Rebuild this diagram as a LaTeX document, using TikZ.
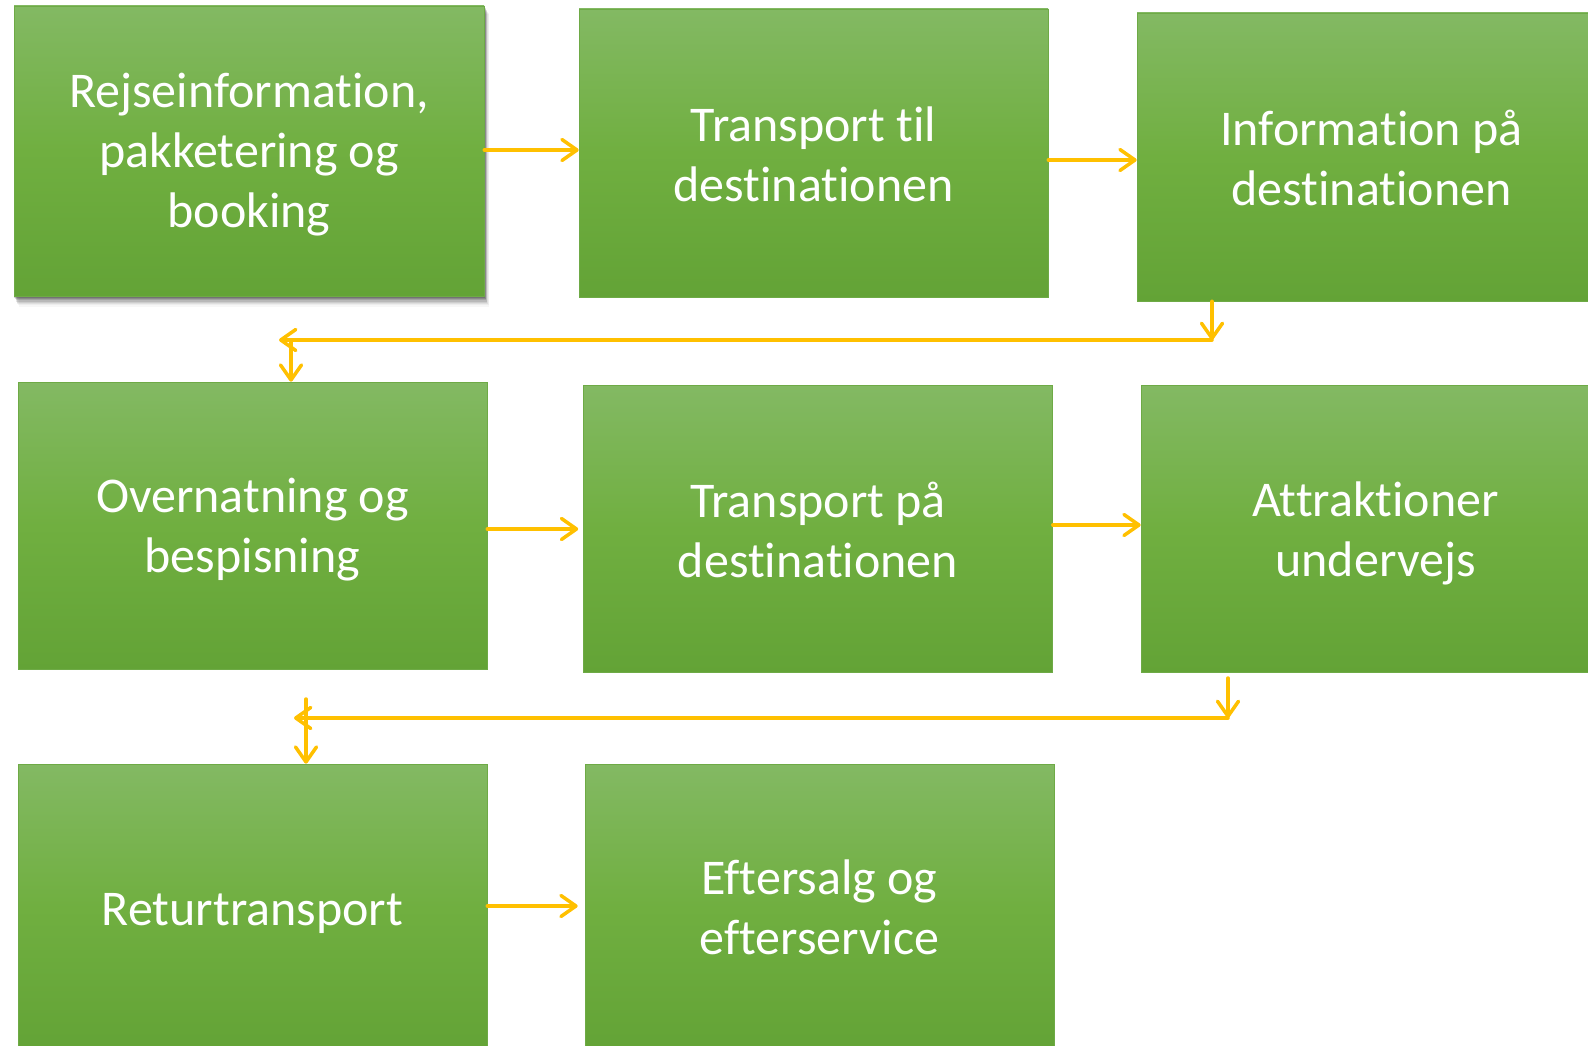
\documentclass[tikz,border=0pt]{standalone}
\usepackage{fontspec}
\setmainfont[Ligatures=NoCommon]{Carlito}
\usetikzlibrary{arrows.meta,backgrounds,calc}
\definecolor{gtop}{RGB}{131,185,99}
\definecolor{gmid}{RGB}{112,175,64}
\definecolor{gbot}{RGB}{99,163,54}
\definecolor{gedge}{RGB}{110,170,70}
\definecolor{gold}{RGB}{255,192,0}
\tikzset{
  box/.style={rectangle, inner sep=0pt, minimum width=469pt, minimum height=287pt,
    top color=gtop, bottom color=gbot, middle color=gmid, draw=gedge, line width=0.6pt},
  boxtext/.style={text=white, align=center, inner sep=0pt, yshift=-4pt,
    font=\fontsize{50pt}{60pt}\selectfont},
  conn/.style={draw=gold, line width=3.5pt, line cap=round, line join=round},
  arr/.style={conn, -{Straight Barb[length=15pt,width=21pt,line cap=round,line join=round]}},
}
\begin{document}
\begin{tikzpicture}[x=1pt,y=-1pt]
\useasboundingbox (0,0) rectangle (1588,1046);
\node[box, minimum width=470pt, minimum height=290pt, label={[boxtext]center:Rejseinformation,\\pakketering og\\booking}] (b1) at (249,151) {};
\node[box, minimum height=288pt, label={[boxtext, yshift=3pt]center:Transport til\\destinationen}] (b2) at (813.5,153) {};
\node[box, minimum height=288pt, label={[boxtext, yshift=3pt]center:Information på\\destinationen}] (b3) at (1371.5,157) {};
\node[box, label={[boxtext]center:Overnatning og\\bespisning}] (b4) at (252.5,525.5) {};
\node[box, label={[boxtext, yshift=3pt]center:Transport på\\destinationen}] (b5) at (818,529) {};
\node[box, label={[boxtext]center:Attraktioner\\undervejs}] (b6) at (1375.5,529) {};
\node[box, label={[boxtext, yshift=-2pt]center:Returtransport}] (b7) at (252.5,907.5) {};
\node[box, label={[boxtext, yshift=4pt]center:Eftersalg og\\efterservice}] (b8) at (819.5,907.5) {};
\begin{pgfonlayer}{background}
  \fill[white] (0,0) rectangle (1588,1046);
  \foreach \s/\o in {1/0.16,2/0.14,3/0.12,4/0.10,5/0.08,6/0.06,7/0.04,8/0.03} {
    \fill[black, opacity=\o] ($(b1.north west)+(\s*0.6,\s*1.0)$) rectangle ($(b1.south east)+(\s*0.6,\s*1.3)$);
  }
\end{pgfonlayer}
% row 1
\draw[arr] (b1.east |- 0,150) -- (b2.west |- 0,150);
\draw[arr] (b2.east |- 0,160) -- (b3.west |- 0,160);
\coordinate (c1) at (1212,340);
\coordinate (c2) at (279,340);
\coordinate (c3) at (291,340);
\draw[arr] (b3.south -| c1) -- (c1);
\draw[arr] (c1) -- (c2);
\draw[arr] (c3) -- (b4.north -| c3);
% row 2
\draw[arr, shorten >=5pt] (b4.east |- 0,529) -- (b5.west |- 0,529);
\draw[arr] (b5.east |- 0,525) -- (b6.west |- 0,525);
\coordinate (d1) at (1228,718);
\coordinate (d0) at (1228,678);
\coordinate (d2) at (294,718);
\coordinate (d3) at (306,699);
\draw[arr] (d0) -- (d1);
\draw[arr] (d1) -- (d2);
\draw[arr] (d3) -- (b7.north -| d3);
% row 3
\draw[arr, shorten >=7pt] (b7.east |- 0,906) -- (b8.west |- 0,906);
\end{tikzpicture}
\end{document}
